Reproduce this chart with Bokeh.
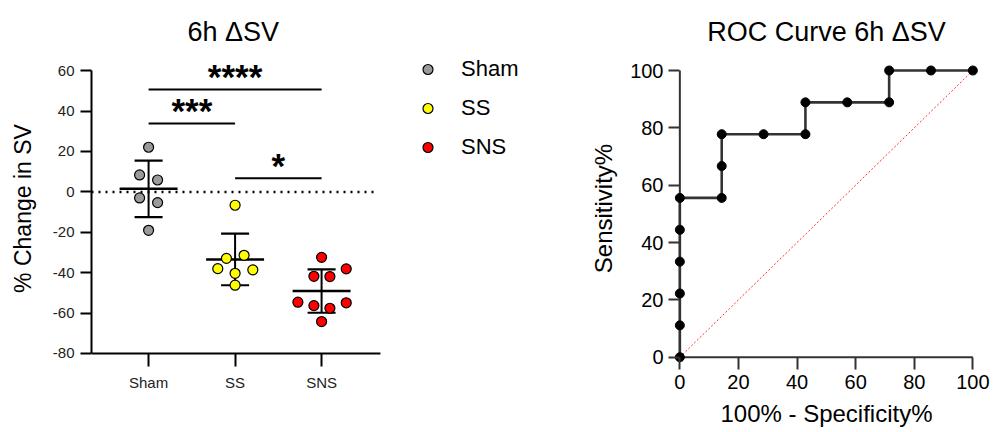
import numpy as np
from bokeh.plotting import figure
from bokeh.layouts import row
from bokeh.models import Range1d, FixedTicker, Legend, LegendItem
from bokeh.embed import file_html
from bokeh.resources import INLINE
from bokeh.core.properties import value

FONT = "Liberation Sans"

# ---------------- data: left panel ----------------
groups = ["Sham", "SS", "SNS"]
group_colors = ["#9a9a9a", "#ffff00", "#ff0000"]
sham_vals = [22.1, 8.4, 5.9, -3.0, -5.3, -19.0]
ss_vals = [-6.6, -31.4, -32.9, -38.0, -38.6, -40.3, -46.2]
sns_vals = [-32.4, -38.1, -41.8, -41.9, -54.6, -56.3, -57.6, -54.9, -64.2]
sham_jitter = [0.0, -0.104, 0.104, -0.104, 0.104, 0.0]
ss_jitter = [0.0, 0.104, -0.100, -0.200, 0.205, 0.0, 0.0]
sns_jitter = [0.0, 0.285, -0.089, 0.096, -0.274, -0.089, 0.096, 0.285, 0.0]
y_ticks = [-80, -60, -40, -20, 0, 20, 40, 60]
y_tick_labels = ["-80", "-60", "-40", "-20", "0", "20", "40", "60"]
x_axis_extent = [-0.66, 2.68]
zero_line_x = [-0.66, 2.6]

sig_from = [0, 0, 1]
sig_to = [2, 1, 2]
sig_y = [50.7, 33.8, 6.7]
sig_text = ["****", "***", "*"]

# ---------------- data: ROC panel ----------------
roc_fpr = [0, 0, 0, 0, 0, 0, 14.29, 14.29, 14.29, 28.57, 42.86, 42.86, 57.14, 71.43, 71.43, 85.71, 100]
roc_sens = [0, 11.11, 22.22, 33.33, 44.44, 55.56, 55.56, 66.67, 77.78, 77.78, 77.78, 88.89, 88.89, 88.89, 100, 100, 100]
diag_x = [0, 100]
diag_y = [0, 100]
roc_ticks = [0, 20, 40, 60, 80, 100]


def style_title(p, text, align, standoff, offset=0):
    p.title.text = text
    p.title.align = align
    p.title.offset = offset
    p.title.text_font = FONT
    p.title.text_font_size = "27px"
    p.title.text_font_style = "normal"
    p.title.text_color = "black"
    p.title.standoff = standoff


# ---------------- left figure ----------------
p1 = figure(width=585, height=432, x_range=Range1d(-0.66, 5.051), y_range=Range1d(-86.44, 70.0),
            output_backend="svg", toolbar_location=None,
            min_border_left=91, min_border_right=0, min_border_top=50, min_border_bottom=66)
p1.outline_line_color = None
p1.xgrid.visible = False
p1.ygrid.visible = False
p1.background_fill_color = None
style_title(p1, "6h ΔSV", "left", 8, offset=96)

# dotted zero line
p1.line(zero_line_x, [0, 0], line_color="black", line_width=2.5, line_dash="2 5")
# x axis line (drawn at y = -80)
p1.line(x_axis_extent, [y_ticks[0]] * 2, line_color="black", line_width=2)

all_vals = [sham_vals, ss_vals, sns_vals]
all_jit = [sham_jitter, ss_jitter, sns_jitter]
renderers = []
for i, (vals, jit, col) in enumerate(zip(all_vals, all_jit, group_colors)):
    arr = np.array(vals)
    m = arr.mean()
    s = arr.std(ddof=1)
    p1.segment(x0=[i], y0=[m - s], x1=[i], y1=[m + s], line_color="black", line_width=2)
    p1.segment(x0=[i - 0.162, i - 0.162], y0=[m - s, m + s], x1=[i + 0.162, i + 0.162],
               y1=[m - s, m + s], line_color="black", line_width=2.2)
    p1.segment(x0=[i - 0.335], y0=[m], x1=[i + 0.335], y1=[m], line_color="black", line_width=2.5)
    xs = [i + j for j in jit]
    r = p1.scatter(xs, vals, size=10, fill_color=col, line_color="black", line_width=1.2)
    renderers.append(r)

# significance bars
p1.segment(x0=sig_from, y0=sig_y, x1=sig_to, y1=sig_y, line_color="black", line_width=2)
sig_mid = [(a + b) / 2 for a, b in zip(sig_from, sig_to)]
sig_text_y = [y + 6.4 for y in sig_y]
p1.text(x=sig_mid, y=sig_text_y, text=sig_text, text_align="center", text_baseline="alphabetic",
        text_font=value(FONT), text_font_size="35px", text_font_style="bold", text_color="black")

# axes
p1.yaxis.ticker = FixedTicker(ticks=y_ticks)
p1.yaxis.major_label_overrides = dict(zip(y_ticks, y_tick_labels))
p1.yaxis.bounds = (y_ticks[0], y_ticks[-1])
p1.xaxis.ticker = FixedTicker(ticks=[0, 1, 2])
p1.xaxis.major_label_overrides = {i: g for i, g in enumerate(groups)}
for ax in [p1.xaxis, p1.yaxis]:
    ax.axis_line_color = "black"
    ax.axis_line_width = 2
    ax.major_tick_line_color = "black"
    ax.major_tick_line_width = 2
    ax.minor_tick_line_color = None
    ax.major_tick_in = 0
    ax.major_label_text_font = FONT
    ax.major_label_text_font_size = "15px"
    ax.major_label_text_color = "#222222"
p1.xaxis.axis_line_color = None
p1.yaxis.major_tick_out = 11
p1.yaxis.major_label_standoff = 6
p1.xaxis.major_tick_out = 0
p1.xaxis.major_tick_in = 13
p1.xaxis.major_label_standoff = 7
p1.yaxis.axis_label = "% Change in SV"
p1.yaxis.axis_label_text_font = FONT
p1.yaxis.axis_label_text_font_size = "23px"
p1.yaxis.axis_label_text_font_style = "normal"
p1.yaxis.axis_label_text_color = "black"
p1.yaxis.axis_label_standoff = 14

legend = Legend(items=[LegendItem(label=g, renderers=[r]) for g, r in zip(groups, renderers)],
                location=(324, 200), orientation="vertical",
                glyph_width=25, glyph_height=38, label_height=38, spacing=1,
                padding=0, margin=0, label_standoff=21,
                border_line_color=None, background_fill_alpha=0,
                label_text_font=FONT, label_text_font_size="22px", label_text_color="black")
p1.add_layout(legend)

# ---------------- ROC figure ----------------
p2 = figure(width=409, height=432, x_range=Range1d(-2.85, 102.95), y_range=Range1d(-3.24, 106.98),
            output_backend="svg", toolbar_location=None,
            min_border_left=86, min_border_right=13, min_border_top=50, min_border_bottom=66)
p2.outline_line_color = None
p2.xgrid.visible = False
p2.ygrid.visible = False
p2.background_fill_color = None
style_title(p2, "ROC Curve 6h ΔSV", "center", 8)

# axis lines through the origin
p2.line([roc_ticks[0], roc_ticks[-1]], [roc_ticks[0], roc_ticks[0]], line_color="#333333", line_width=2)
p2.line([roc_ticks[0], roc_ticks[0]], [roc_ticks[0], roc_ticks[-1]], line_color="#333333", line_width=2)
p2.line(diag_x, diag_y, line_color="#ff3030", line_width=1, line_dash="2 2")
p2.line(roc_fpr, roc_sens, line_color="#333333", line_width=2.6)
p2.scatter(roc_fpr, roc_sens, size=9, fill_color="black", line_color="black")

for ax in [p2.xaxis, p2.yaxis]:
    ax.ticker = FixedTicker(ticks=roc_ticks)
    ax.bounds = (roc_ticks[0], roc_ticks[-1])
    ax.axis_line_color = None
    ax.major_tick_line_color = "#333333"
    ax.major_tick_line_width = 2
    ax.minor_tick_line_color = None
    ax.major_label_text_font = FONT
    ax.major_label_text_font_size = "20px"
    ax.major_label_text_color = "black"
    ax.axis_label_text_font = FONT
    ax.axis_label_text_font_size = "24px"
    ax.axis_label_text_font_style = "normal"
    ax.axis_label_text_color = "black"
p2.yaxis.major_tick_in = 8
p2.yaxis.major_tick_out = 3
p2.yaxis.major_label_standoff = 5
p2.xaxis.major_tick_in = 9
p2.xaxis.major_tick_out = 3
p2.xaxis.major_label_standoff = 5
p2.yaxis.axis_label = "Sensitivity%"
p2.yaxis.axis_label_standoff = 10
p2.xaxis.axis_label = "100% - Specificity%"
p2.xaxis.axis_label_standoff = 8

layout = row(p1, p2, spacing=0)
open("out.html", "w").write(file_html(layout, INLINE))
